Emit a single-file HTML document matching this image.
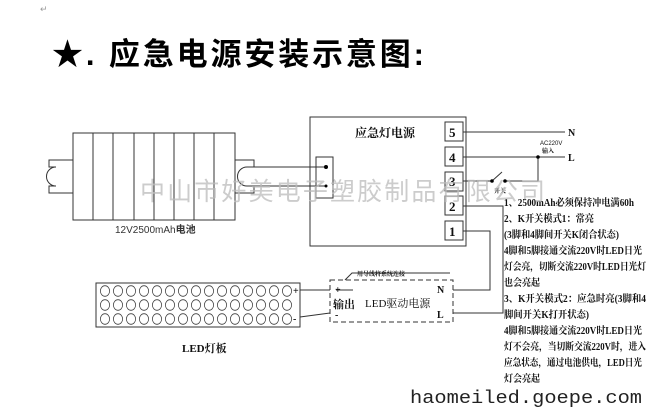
<!DOCTYPE html>
<html><head><meta charset="utf-8"><style>
html,body{margin:0;padding:0;background:#fff;}
svg{display:block;}
.t{font-family:"Liberation Serif","Noto Serif CJK SC",serif;font-weight:bold;font-size:10px;fill:#111;}
</style></head><body>
<svg width="652" height="413" viewBox="0 0 652 413" xmlns="http://www.w3.org/2000/svg">
<text x="40" y="12" font-size="9" fill="#999" font-family="Liberation Sans">↵</text>
<text x="52" y="65" font-size="31" font-weight="bold" font-family="Liberation Sans,'Noto Sans CJK SC',sans-serif" fill="#000" textLength="372" lengthAdjust="spacing">★. 应急电源安装示意图:</text>
<g stroke="#333" stroke-width="1" fill="none">
<rect x="73" y="133" width="162" height="87"/>
<line x1="93" y1="133" x2="93" y2="220"/><line x1="113" y1="133" x2="113" y2="220"/>
<line x1="134" y1="133" x2="134" y2="220"/><line x1="154" y1="133" x2="154" y2="220"/>
<line x1="174" y1="133" x2="174" y2="220"/><line x1="194" y1="133" x2="194" y2="220"/>
<line x1="214" y1="133" x2="214" y2="220"/>
<path d="M73 160 H49 V167 H56 A9 9 0 0 0 56 186 H49 V193 H73"/>
<path d="M235 160 H254 V167 H247 A9 9 0 0 0 247 186 H254 V193 H235"/>
<line x1="247" y1="167" x2="326" y2="167"/>
<line x1="247" y1="186" x2="326" y2="186"/>
<rect x="316" y="157" width="17" height="41"/>
<rect x="310" y="117" width="156" height="129"/>
<rect x="445" y="122" width="18" height="19"/>
<rect x="445" y="147" width="18" height="19"/>
<rect x="445" y="172" width="18" height="19"/>
<rect x="445" y="196" width="18" height="19"/>
<rect x="445" y="221" width="18" height="19"/>
<line x1="463" y1="132" x2="565" y2="132"/>
<line x1="463" y1="157" x2="565" y2="157"/>
<polyline points="463,181 492,181"/>
<line x1="492" y1="181" x2="502" y2="172"/>
<polyline points="505,181 538,181 538,157"/>
<polyline points="463,206 503,206 503,313 453,313"/>
<polyline points="463,231 490,231 490,290 453,290"/>
<rect x="330" y="280" width="123" height="42" stroke-dasharray="5,3"/>
<polyline points="345,280 352,273 450,273"/>
<line x1="336" y1="290" x2="353" y2="290"/>
<line x1="300" y1="290" x2="330" y2="290"/>
<line x1="300" y1="317" x2="330" y2="313"/>
<rect x="96" y="283" width="204" height="44"/>
</g>
<g fill="#000">
<circle cx="326" cy="167" r="2"/><circle cx="326" cy="186" r="1.5"/>
<circle cx="538" cy="157" r="1.8"/><circle cx="492" cy="181" r="1.8"/><circle cx="505" cy="181" r="1.8"/>
</g>
<defs>
<g id="row" fill="none" stroke="#444" stroke-width="0.8">
<ellipse cx="105" cy="0" rx="4.6" ry="5.3"/><ellipse cx="118" cy="0" rx="4.6" ry="5.3"/>
<ellipse cx="131" cy="0" rx="4.6" ry="5.3"/><ellipse cx="144" cy="0" rx="4.6" ry="5.3"/>
<ellipse cx="157" cy="0" rx="4.6" ry="5.3"/><ellipse cx="170" cy="0" rx="4.6" ry="5.3"/>
<ellipse cx="183" cy="0" rx="4.6" ry="5.3"/><ellipse cx="196" cy="0" rx="4.6" ry="5.3"/>
<ellipse cx="209" cy="0" rx="4.6" ry="5.3"/><ellipse cx="222" cy="0" rx="4.6" ry="5.3"/>
<ellipse cx="235" cy="0" rx="4.6" ry="5.3"/><ellipse cx="248" cy="0" rx="4.6" ry="5.3"/>
<ellipse cx="261" cy="0" rx="4.6" ry="5.3"/><ellipse cx="274" cy="0" rx="4.6" ry="5.3"/>
<ellipse cx="287" cy="0" rx="4.6" ry="5.3"/>
</g>
</defs>
<use href="#row" y="291"/>
<use href="#row" y="305"/>
<use href="#row" y="319"/>
<g class="t">
<text x="293" y="294" font-size="10">+</text>
<text x="293" y="322" font-size="10">-</text>
<text x="355" y="137" font-size="12">应急灯电源</text>
<text x="449" y="137" font-size="13">5</text>
<text x="449" y="162" font-size="13">4</text>
<text x="449" y="186" font-size="13">3</text>
<text x="449" y="211" font-size="13">2</text>
<text x="449" y="236" font-size="13">1</text>
<text x="568" y="136" font-size="10">N</text>
<text x="568" y="161" font-size="10">L</text>
<text x="540" y="145" font-size="6" font-weight="normal" font-family="Liberation Sans">AC220V</text>
<text x="542" y="153" font-size="6">输入</text>
<text x="494" y="193" font-size="6">开关</text>
<text x="335" y="293" font-size="10">+</text>
<text x="335" y="318" font-size="10">-</text>
<text x="333" y="308" font-size="11">输出</text>
<text x="365" y="307" font-size="11" font-weight="normal">LED驱动电源</text>
<text x="437" y="293" font-size="10">N</text>
<text x="437" y="318" font-size="10">L</text>
<text x="357" y="276" font-size="6">用导线将系统连接</text>
<text x="504" y="206" textLength="130" lengthAdjust="spacingAndGlyphs">1、2500mAh必须保持冲电满60h</text>
<text x="504" y="222" textLength="90" lengthAdjust="spacingAndGlyphs">2、K开关模式1：常亮</text>
<text x="504" y="238" textLength="115" lengthAdjust="spacingAndGlyphs">(3脚和4脚间开关K闭合状态)</text>
<text x="504" y="254" textLength="138" lengthAdjust="spacingAndGlyphs">4脚和5脚接通交流220V时LED日光</text>
<text x="504" y="270" textLength="142" lengthAdjust="spacingAndGlyphs">灯会亮，切断交流220V时LED日光灯</text>
<text x="504" y="286" textLength="36" lengthAdjust="spacingAndGlyphs">也会亮起</text>
<text x="504" y="302" textLength="142" lengthAdjust="spacingAndGlyphs">3、K开关模式2：应急时亮(3脚和4</text>
<text x="504" y="318" textLength="85" lengthAdjust="spacingAndGlyphs">脚间开关K打开状态)</text>
<text x="504" y="334" textLength="138" lengthAdjust="spacingAndGlyphs">4脚和5脚接通交流220V时LED日光</text>
<text x="504" y="350" textLength="142" lengthAdjust="spacingAndGlyphs">灯不会亮，当切断交流220V时，进入</text>
<text x="504" y="366" textLength="138" lengthAdjust="spacingAndGlyphs">应急状态，通过电池供电，LED日光</text>
<text x="504" y="382" textLength="36" lengthAdjust="spacingAndGlyphs">灯会亮起</text>
<text x="182" y="352" font-size="11">LED灯板</text>
</g>
<text x="115" y="233" font-size="10" font-family="Liberation Sans,'Noto Sans CJK SC',sans-serif" fill="#333">12V2500mAh<tspan font-weight="bold">电池</tspan></text>
<text x="140" y="200" font-size="25" font-family="Liberation Sans,'Noto Sans CJK SC',sans-serif" fill="#bbb" fill-opacity="0.75" textLength="405" lengthAdjust="spacing">中山市好美电子塑胶制品有限公司</text>
<text x="410" y="403" font-size="18" font-family="Liberation Mono,monospace" fill="#222" textLength="232" lengthAdjust="spacingAndGlyphs">haomeiled.goepe.com</text>
</svg>
</body></html>
